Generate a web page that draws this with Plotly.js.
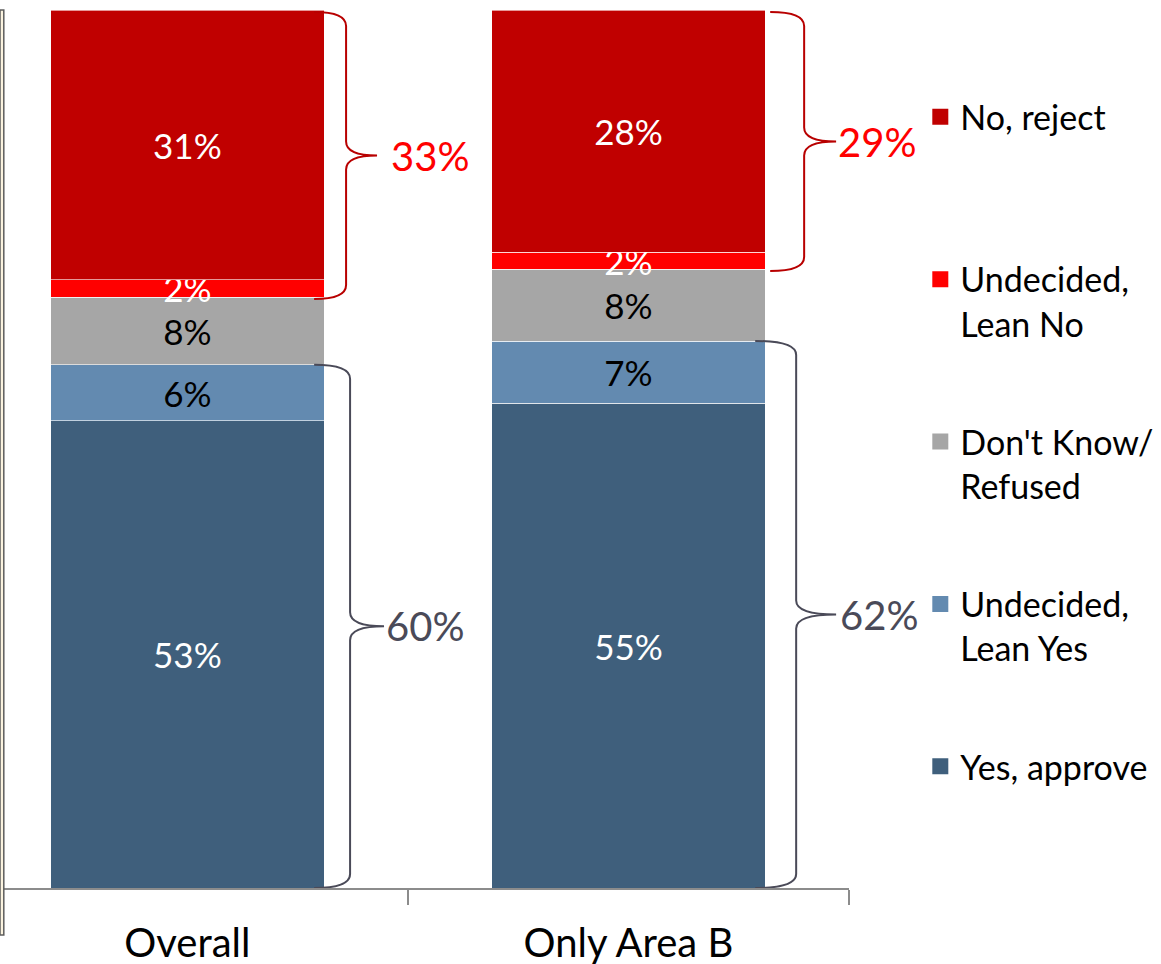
<!DOCTYPE html>
<html>
<head>
<meta charset="utf-8">
<script src="https://cdn.plot.ly/plotly-3.0.1.min.js"></script>
<style>
  html, body { margin: 0; padding: 0; background: #ffffff; }
  #chart { width: 1161px; height: 964px; }
</style>
</head>
<body>
<div id="chart"></div>
<script>
// ---- data ----
const categories = ['Overall', 'Only Area B'];
const seriesNames = ['Yes, approve', 'Undecided,<br>Lean Yes', "Don't Know/<br>Refused", 'Undecided,<br>Lean No', 'No, reject'];
const yesApprove = [53.2, 55.2];
const leanYes    = [6.4, 7.1];
const dontKnow   = [7.7, 8.2];
const leanNo     = [2.0, 1.9];
const noReject   = [30.7, 27.6];
const yesTotalLabels = ['60%', '62%'];
const noTotalLabels  = ['33%', '29%'];

// ---- styling ----
const FONT = 'Lato, "Open Sans", sans-serif';
const colors = ['#3F5F7C', '#638AB0', '#A6A6A6', '#FF0000', '#C00000'];
const textColors = ['#ffffff', '#000000', '#000000', '#ffffff', '#ffffff'];
const series = [yesApprove, leanYes, dontKnow, leanNo, noReject];

const PLOT_W = 847, PLOT_H = 878;
const XR = [-0.418, 1.5];
const BARW = 0.62;

const traces = series.map((vals, k) => ({
  type: 'bar',
  name: seriesNames[k],
  showlegend: false,
  x: categories,
  y: vals,
  width: BARW,
  marker: { color: colors[k], line: { color: 'rgba(255,255,255,0.6)', width: 1 } },
  texttemplate: '%{y:.0f}%',
  textposition: 'inside',
  insidetextanchor: 'middle',
  constraintext: 'none',
  textangle: 0,
  insidetextfont: { family: FONT, size: 35, color: textColors[k] },
  hoverinfo: 'skip'
}));

// legend entries (top to bottom: No, reject ... Yes, approve) with larger square keys
for (let k = series.length - 1; k >= 0; k--) {
  traces.push({
    type: 'scatter', mode: 'markers',
    name: seriesNames[k] + (seriesNames[k].indexOf('<br>') < 0 ? '<br> ' : ''),
    legendgroup: 'g' + k,
    x: [null], y: [null],
    marker: { symbol: 'square', size: 17, color: colors[k] },
    hoverinfo: 'skip'
  });
}

// ---- brackets (curly braces) ----
function px2paperX(p) { return p / PLOT_W; }
function xToPaper(v) { return (v - XR[0]) / (XR[1] - XR[0]); }
function pxToY(p) { return p * 100 / PLOT_H; }

function brace(i, yBot, yTop, offs, color) {
  const right = xToPaper(i + BARW / 2);
  const xs = right + px2paperX(offs[0]);
  const xv = right + px2paperX(offs[1]);
  const xt = right + px2paperX(offs[2]);
  const r = pxToY(14);
  const ym = (yBot + yTop) / 2;
  const path =
    `M ${xs},${yTop} Q ${xv},${yTop} ${xv},${yTop - r} ` +
    `L ${xv},${ym + r} Q ${xv},${ym} ${xt},${ym} ` +
    `Q ${xv},${ym} ${xv},${ym - r} ` +
    `L ${xv},${yBot + r} Q ${xv},${yBot} ${xs},${yBot}`;
  return {
    shape: { type: 'path', xref: 'paper', yref: 'y', path: path, line: { color: color, width: 2 } },
    tipX: xt, midY: ym
  };
}

const shapes = [];
const annotations = [];
const upperOffs = [[-10, 22, 53], [5, 39, 71]];
const lowerOffs = [[-10, 26, 60], [-10, 31, 71]];
const upperLabelGap = [12, 0];
const lowerLabelGap = [0, 2];
const RED = '#FF0000', REDLINE = '#B80000', GREY = '#4A4A58';

categories.forEach((c, i) => {
  const total = yesApprove[i] + leanYes[i] + dontKnow[i] + leanNo[i] + noReject[i];
  const noBottom = yesApprove[i] + leanYes[i] + dontKnow[i];
  const yesTop = yesApprove[i] + leanYes[i];
  const up = brace(i, noBottom - pxToY(2), total - pxToY(2), upperOffs[i], REDLINE);
  const lo = brace(i, 0, yesTop, lowerOffs[i], GREY);
  shapes.push(up.shape, lo.shape);
  annotations.push({
    xref: 'paper', yref: 'y', x: up.tipX + px2paperX(upperLabelGap[i]), y: up.midY,
    text: noTotalLabels[i], showarrow: false, xanchor: 'left', yanchor: 'middle',
    font: { family: FONT, size: 40, color: RED }
  });
  annotations.push({
    xref: 'paper', yref: 'y', x: lo.tipX + px2paperX(lowerLabelGap[i]), y: lo.midY,
    text: yesTotalLabels[i], showarrow: false, xanchor: 'left', yanchor: 'middle',
    font: { family: FONT, size: 40, color: GREY }
  });
});

// left frame edge
shapes.push({
  type: 'rect', xref: 'paper', yref: 'paper',
  x0: -3 / PLOT_W, x1: 0.8 / PLOT_W, y0: -47 / PLOT_H, y1: 1.0,
  fillcolor: '#FBF3DF', line: { color: '#5E5E5E', width: 1.5 }, layer: 'above'
});

const layout = {
  width: 1161, height: 964,
  margin: { l: 3, r: 311, t: 10, b: 76 },
  paper_bgcolor: '#ffffff', plot_bgcolor: '#ffffff',
  barmode: 'stack',
  showlegend: true,
  font: { family: FONT, color: '#000000' },
  xaxis: {
    type: 'category', range: XR, fixedrange: true,
    showline: true, linecolor: '#8C8C8C', linewidth: 1.5,
    ticks: 'outside', tickson: 'boundaries', ticklen: 15, tickcolor: '#8C8C8C', tickwidth: 1.5,
    tickfont: { family: FONT, size: 40, color: '#000000' },
    ticklabelstandoff: 19,
    showgrid: false, zeroline: false
  },
  yaxis: {
    range: [0, 100], visible: false, showgrid: false, zeroline: false, fixedrange: true
  },
  legend: {
    x: 1.083, xanchor: 'left', y: 0.911, yanchor: 'top',
    traceorder: 'grouped', tracegroupgap: 71, valign: 'top',
    font: { family: FONT, size: 34, color: '#000000' },
    bgcolor: 'rgba(0,0,0,0)'
  },
  shapes: shapes,
  annotations: annotations
};

Plotly.newPlot('chart', traces, layout, { staticPlot: true, displayModeBar: false });
</script>
</body>
</html>
